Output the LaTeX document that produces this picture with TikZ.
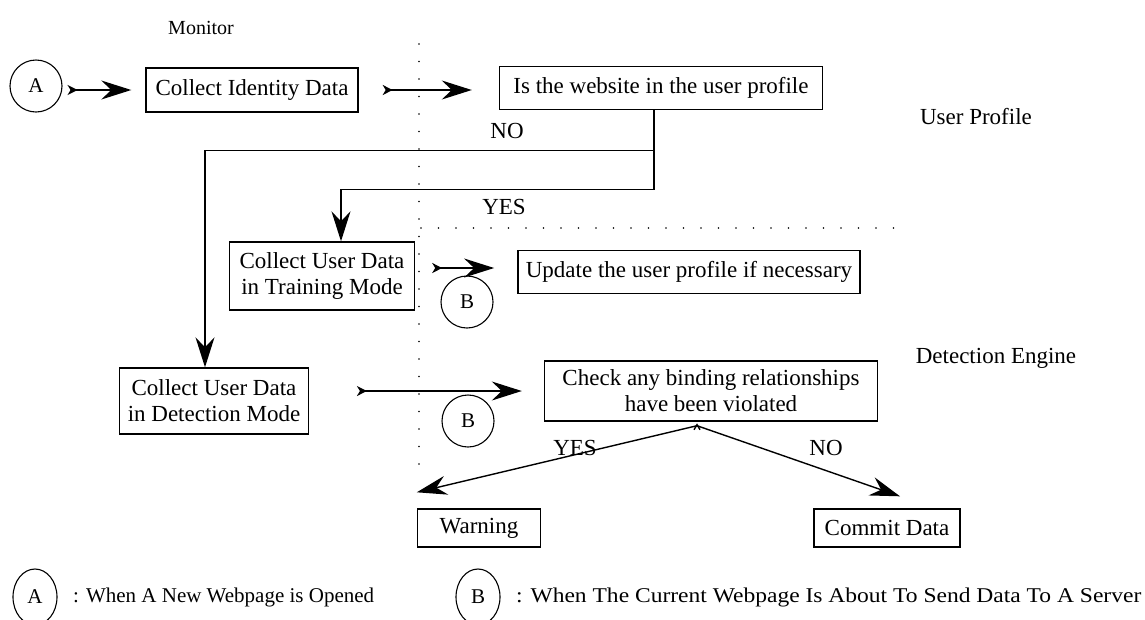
\documentclass[tikz,border=0pt]{standalone}
\usepackage{fontspec}
\setmainfont{Liberation Serif}
\usetikzlibrary{arrows.meta,positioning,shapes.geometric}

\begin{document}
\begin{tikzpicture}[x=1pt,y=-1pt,
  box/.style={draw,line width=1.4pt,align=center,inner xsep=8pt,
              font=\fontsize{23}{26}\selectfont},
  circ/.style={draw,circle,line width=1.1pt,minimum size=52pt,inner sep=0pt,
              font=\fontsize{21}{22}\selectfont},
  ell/.style={draw,ellipse,line width=1.1pt,minimum width=44pt,minimum height=56pt,
              inner sep=0pt,font=\fontsize{21}{22}\selectfont},
  lbl/.style={font=\fontsize{23}{26}\selectfont},
  arr/.style={line width=1.4pt,
              {Stealth[reversed,length=10pt,width=10pt,inset=3pt]}-{Stealth[length=30pt,width=19pt,inset=10pt]}},
  dn/.style={line width=1.4pt,-{Stealth[length=30pt,width=19pt,inset=10pt]}},
  ln/.style={line width=1.4pt},
  dots/.style={line width=1.7pt,line cap=round,dash pattern=on 0pt off 17.5pt}]
\useasboundingbox (0,0) rectangle (1145,619);

% swim lanes
\draw[dots] (419,44) -- (419,470);
\draw[dots] (421,228) -- (905,228);
\node[font=\fontsize{20}{22}\selectfont] (mon) at (201,28) {Monitor};
\node[lbl] (prof) at (976,117) {User Profile};
\node[lbl] (eng) at (996,358) {Detection Engine};

% nodes
\node[circ] (a) at (36,86) {A};
\node[box,minimum width=212pt,minimum height=44pt] (id) at (252,90) {Collect Identity Data};
\node[box,minimum width=323pt,minimum height=43pt] (web) at (661,88) {Is the website in the user profile};
\node[box,minimum width=185pt,minimum height=68pt] (train) at (322,276) {Collect User Data\\in Training Mode};
\node[box,minimum width=288pt,minimum height=43pt] (upd) at (689,272) {Update the user profile if necessary};
\node[circ] (b1) at (467,302) {B};
\node[box,minimum width=186pt,minimum height=66pt] (det) at (214,401) {Collect User Data\\in Detection Mode};
\node[box,minimum width=333pt,minimum height=60pt] (chk) at (711,391) {Check any binding relationships\\have been violated};
\node[circ] (b2) at (468,421) {B};
\node[box,minimum width=123pt,minimum height=38pt] (warn) at (479,528) {Warning};
\node[box,minimum width=146pt,minimum height=38pt] (cmt) at (887,528) {Commit Data};

% edges
\draw[arr] ([xshift=5pt]a.east |- id.west) -- ([xshift=-14pt]id.west);
\draw[arr] ([xshift=24pt]id.east) -- ([xshift=-27pt]web.west |- id.east);

\coordinate (sp) at ([xshift=-7pt]web.south);
\coordinate (nob) at ([yshift=-40pt]sp);
\coordinate (yesb) at ([yshift=-79pt]sp);
\draw[ln] (sp) -- ([yshift=-1pt]yesb);
\draw[dn] (nob) -| ([xshift=-9pt]det.north);
\draw[dn] (yesb) -| ([xshift=19pt]train.north);
\node[lbl] (no1) at (507,131) {NO};
\node[lbl] (yes1) at (504,207) {YES};

\draw[arr] ([xshift=17pt,yshift=4pt]train.east |- upd.west) -- ([xshift=-23pt,yshift=4pt]upd.west);
\draw[arr] ([xshift=48pt]det.east |- chk.west) -- ([xshift=-22pt]chk.west);

\coordinate (apex) at ([xshift=-14pt,yshift=-4pt]chk.south);
\draw[ln] ([xshift=-3pt,yshift=-4pt]apex) -- ([yshift=1pt]apex) -- ([xshift=3pt,yshift=-4pt]apex);
\draw[dn] (apex) -- ([yshift=16pt]warn.north west);
\draw[dn] (apex) -- ([xshift=13pt,yshift=12pt]cmt.north);
\node[lbl] (yes2) at (575,448) {YES};
\node[lbl] (no2) at (826,448) {NO};

% legend
\node[ell] (la) at (35,597) {A};
\node[anchor=west,inner xsep=0pt,font=\fontsize{21}{22}\selectfont] (lat) at (73,597) {: When A New Webpage is Opened};
\node[ell] (lb) at (478,597) {B};
\node[anchor=west,inner xsep=0pt,font=\fontsize{21}{22}\selectfont] (lbt) at (516,597) {\scalebox{1.12}[1]{: When The Current Webpage Is About To Send Data To A Server}};
\end{tikzpicture}
\end{document}
